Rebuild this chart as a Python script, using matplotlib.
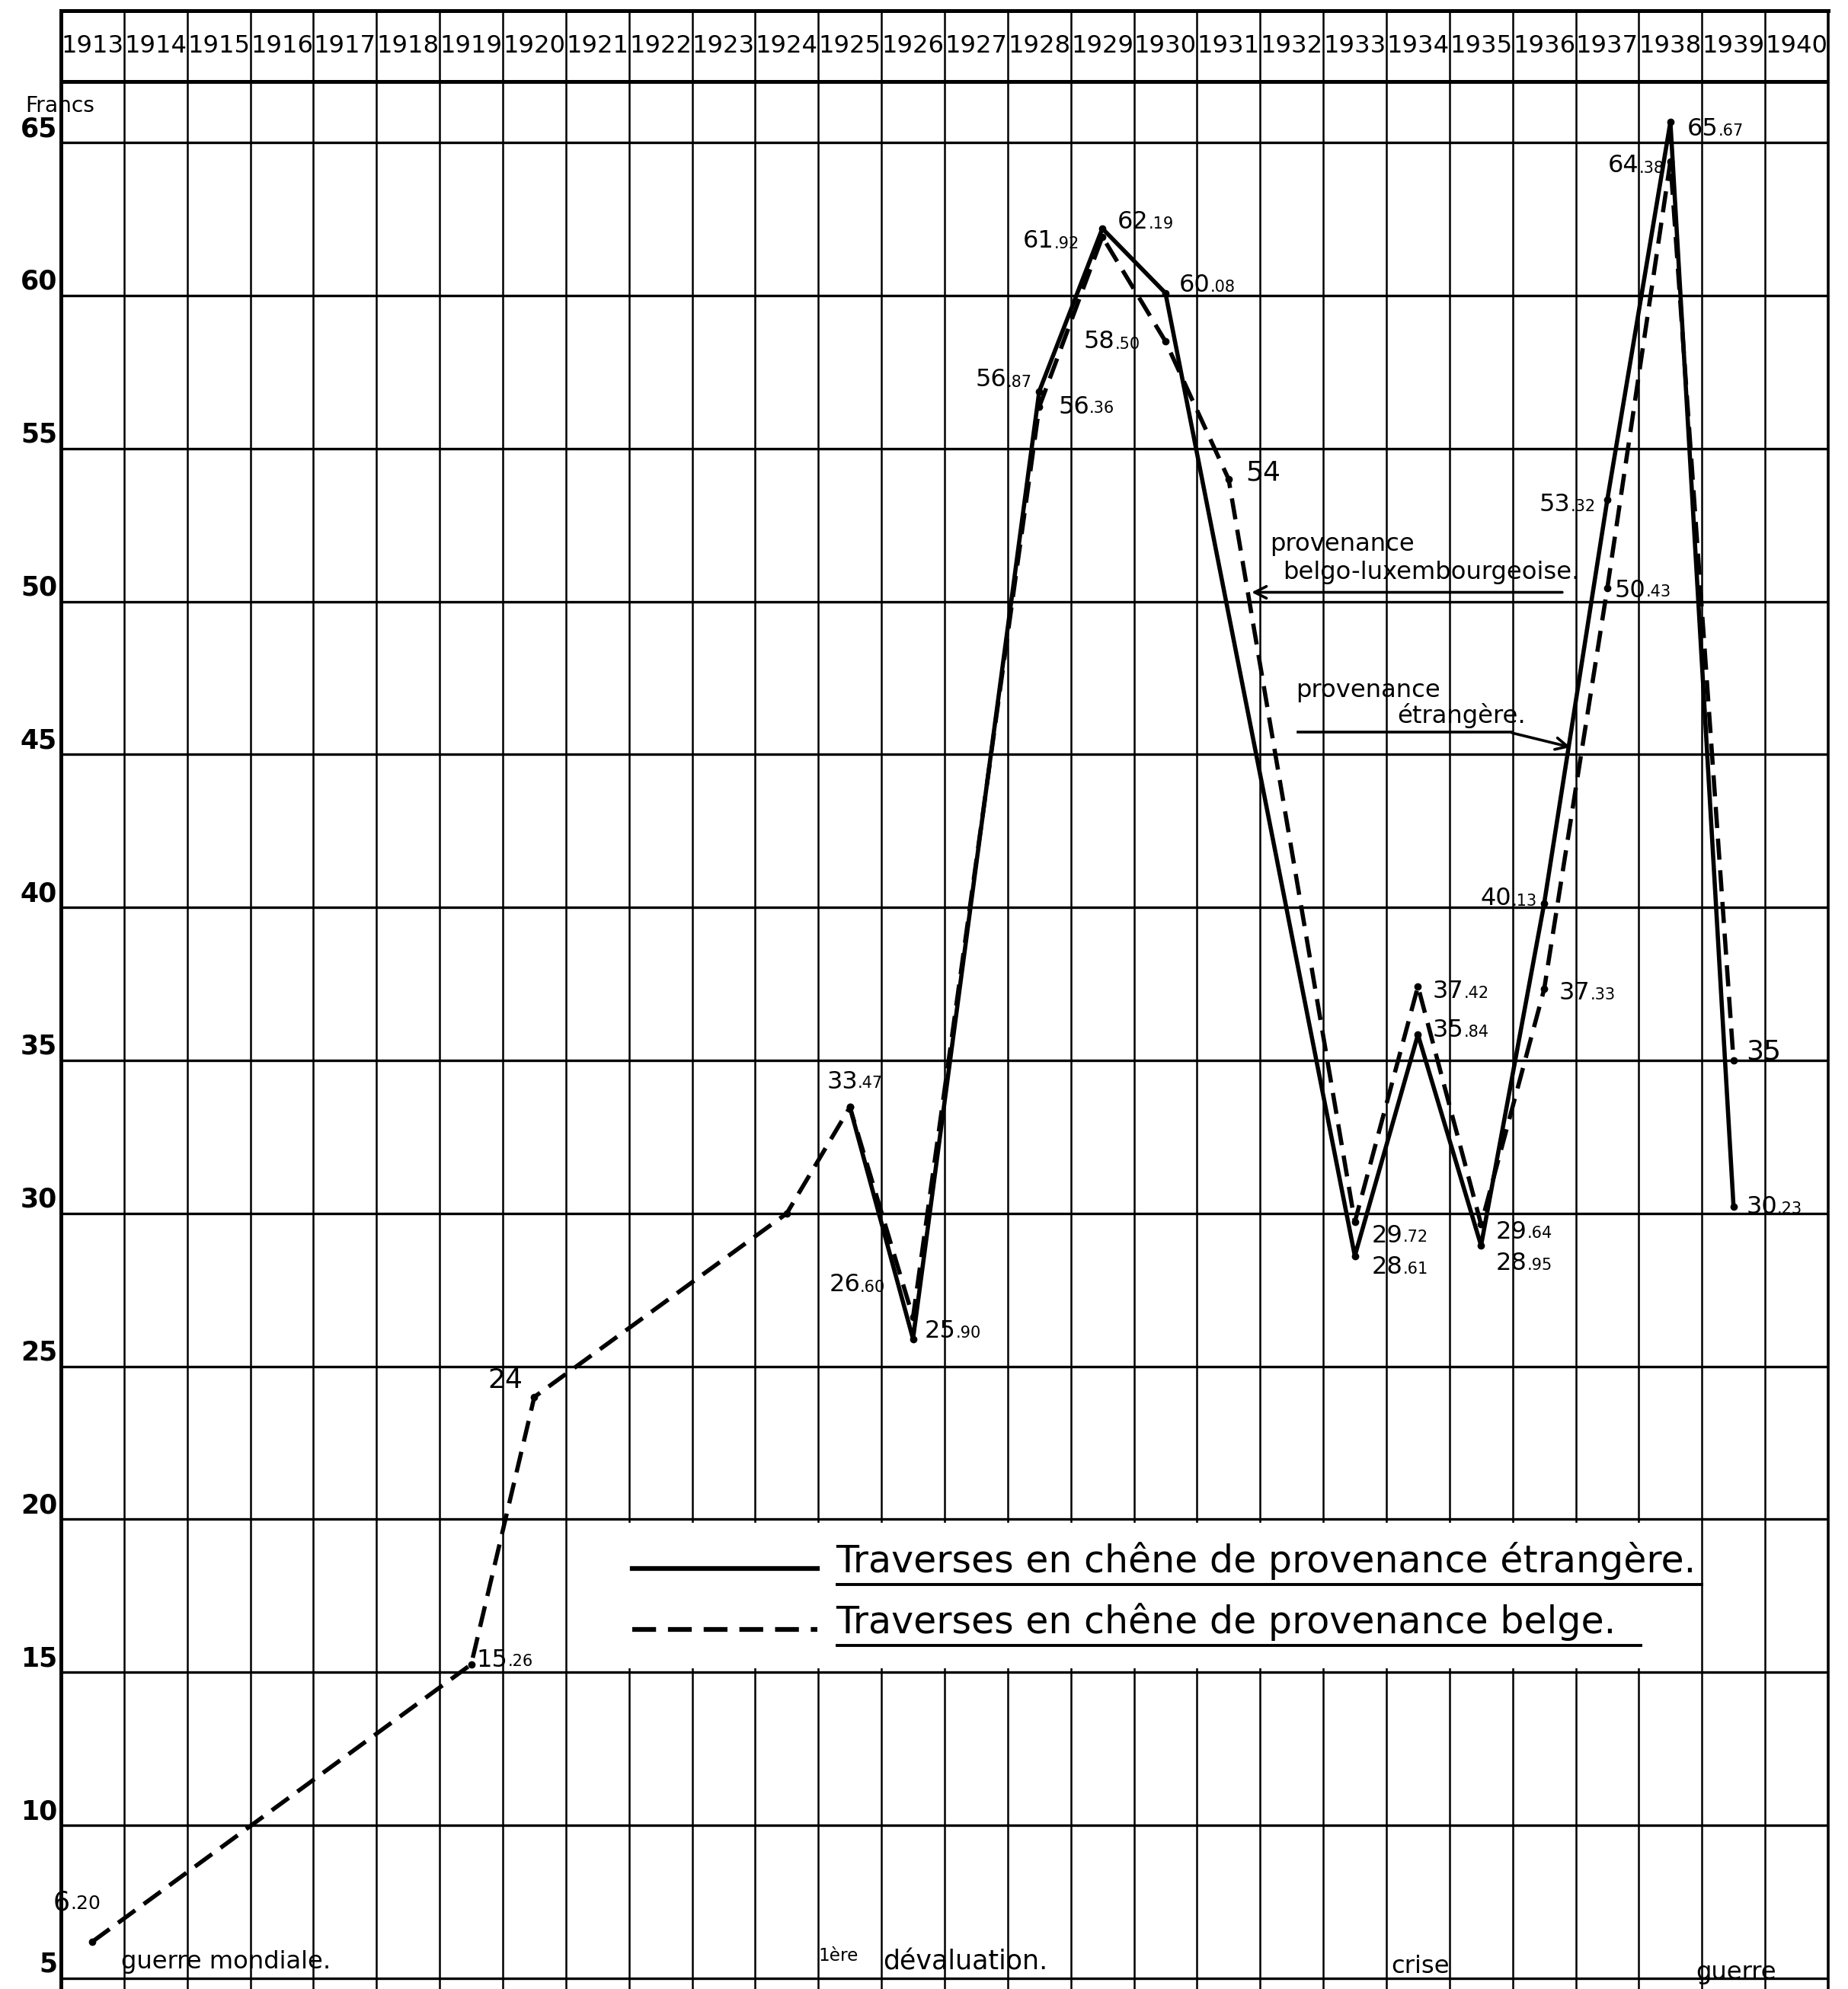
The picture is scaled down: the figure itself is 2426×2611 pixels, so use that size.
import matplotlib
matplotlib.use('Agg')
import matplotlib.pyplot as plt
from matplotlib import font_manager
from matplotlib.patches import Rectangle

years = list(range(1913, 1941))
y_ticks = [5, 10, 15, 20, 25, 30, 35, 40, 45, 50, 55, 60, 65]

# traverses en chene de provenance etrangere (trait plein)
etr_years = [1925, 1926, 1928, 1929, 1930, 1933, 1934, 1935, 1936, 1937, 1938, 1939]
etr_vals = [33.47, 25.90, 56.87, 62.19, 60.08, 28.61, 35.84, 28.95, 40.13, 53.32, 65.67, 30.23]

# traverses en chene de provenance belge (tirets)
bel_years = [1913, 1919, 1920, 1924, 1925, 1926, 1928, 1929, 1930, 1931,
             1933, 1934, 1935, 1936, 1937, 1938, 1939]
bel_vals = [6.20, 15.26, 24.00, 30.0, 33.47, 26.60, 56.36, 61.92, 58.50, 54.00,
            29.72, 37.42, 29.64, 37.33, 50.43, 64.38, 35.00]
bel_no_label = [1924]

legend_labels = ['Traverses en chêne de provenance étrangère.',
                 'Traverses en chêne de provenance belge.']

# label placement: (ha, dx, dy) in points
etr_pos = {1925: None, 1926: ('left', 11, 7), 1928: ('right', -7, 11), 1929: ('left', 14, 6),
           1930: ('left', 13, 7), 1933: ('left', 16, -11), 1934: ('left', 14, 4),
           1935: ('left', 14, -17), 1936: ('right', -7, 5), 1937: ('right', -11, -4),
           1938: ('left', 16, -7), 1939: ('left', 12, -1)}
bel_pos = {1913: ('left', -37, 37), 1919: ('left', 5, 4), 1920: ('right', -11, 16),
           1925: ('left', -22, 24), 1926: ('right', -26, 31), 1928: ('left', 18, 0),
           1929: ('right', -22, -4), 1930: ('right', -24, 0), 1931: ('left', 16, 6),
           1933: ('left', 16, -13), 1934: ('left', 14, -5), 1935: ('left', 14, -7),
           1936: ('left', 14, -4), 1937: ('left', 7, -2), 1938: ('right', -6, -4),
           1939: ('left', 12, 8)}

names = {f.name for f in font_manager.fontManager.ttflist}
if 'Liberation Sans Narrow' in names:
    narrow, nscale = 'Liberation Sans Narrow', 1.0
else:
    narrow, nscale = 'DejaVu Sans', 0.75

fig = plt.figure(figsize=(24.26, 26.11), dpi=100)
ax = fig.add_axes([80 / 2426, 0, 2320 / 2426, 2597 / 2611])
ax.set_xlim(1912.5, 1940.5)
ax.set_ylim(4.65, 69.31)
ax.set_xticks([])
ax.set_yticks([])
ax.spines['bottom'].set_visible(False)
ax.spines['top'].set_linewidth(3.6)
ax.spines['left'].set_linewidth(3.6)
ax.spines['right'].set_linewidth(2.6)

# grid
for y in years[:-1]:
    ax.axvline(y + 0.5, color='k', lw=1.8, zorder=1)
for v in y_ticks:
    ax.axhline(v, color='k', lw=2.4, zorder=2)
    ax.text(1912.44, v + 0.2, str(v), ha='right', va='baseline', fontsize=25,
            fontweight='bold', clip_on=False)
ax.axhline(67, color='k', lw=3.6, zorder=2)
ax.text(1911.93, 66.2, 'Francs', ha='left', va='center', fontsize=27 * nscale,
        family=narrow, zorder=5)

for y in years:
    ax.text(y, 68.15, str(y), ha='center', va='center', fontsize=31 * nscale, family=narrow)

# blank legend area
ax.add_patch(Rectangle((1921.42, 15.12), 1938.44 - 1921.42, 4.76, fc='white', ec='none', zorder=1.5))

ax.plot(etr_years, etr_vals, color='k', lw=4, zorder=4)
ax.plot(bel_years, bel_vals, color='k', lw=4, dashes=(5, 2.5), zorder=4)
ax.plot(etr_years, etr_vals, 'o', color='k', ms=6, zorder=5)
ax.plot(bel_years, bel_vals, 'o', color='k', ms=6, zorder=5)


def value_label(x, v, pos, big=23, small=15):
    if pos is None:
        return
    ha, dx, dy = pos
    txt = f'{v:.2f}' if v != int(v) else str(int(v))
    if '.' in txt:
        whole, dec = txt.split('.')
        dec = '.' + dec
    else:
        whole, dec = txt, ''
        big += 3
    if ha == 'left' or not dec:
        t = ax.annotate(whole, (x, v), xytext=(dx, dy), textcoords='offset points',
                        ha=ha, va='center', fontsize=big, zorder=6)
        if dec:
            ax.annotate(dec, xy=(1, 0), xycoords=t, xytext=(0, big * 0.23),
                        textcoords='offset points', ha='left', va='baseline',
                        fontsize=small, zorder=6)
    else:
        t = ax.annotate(dec, (x, v), xytext=(dx, dy - big * 0.3), textcoords='offset points',
                        ha='right', va='baseline', fontsize=small, zorder=6)
        ax.annotate(whole, xy=(0, 0), xycoords=t, xytext=(0, small * 0.23),
                    textcoords='offset points', ha='right', va='baseline',
                    fontsize=big, zorder=6)


for x, v in zip(etr_years, etr_vals):
    value_label(x, v, etr_pos[x])
for x, v in zip(bel_years, bel_vals):
    if x in bel_no_label:
        continue
    if x == 1913:
        value_label(x, v, bel_pos[x], big=25, small=18)
    else:
        value_label(x, v, bel_pos[x])

# annotations with arrows
ann = dict(fontsize=31 * nscale, family=narrow, ha='left', va='center', zorder=6)
ax.text(1931.65, 51.86, 'provenance', **ann)
ax.text(1931.86, 50.95, 'belgo-luxembourgeoise.', **ann)
ax.annotate('', xy=(1931.33, 50.3), xytext=(1936.32, 50.3),
            arrowprops=dict(arrowstyle='->', lw=2.6, color='k', mutation_scale=28), zorder=6)
ax.text(1932.06, 47.09, 'provenance', **ann)
ax.text(1933.67, 46.26, 'étrangère.', **ann)
ax.plot([1932.1, 1935.48], [45.72, 45.72], color='k', lw=2.6, zorder=6)
ax.annotate('', xy=(1936.45, 45.22), xytext=(1935.46, 45.72),
            arrowprops=dict(arrowstyle='->', lw=2.6, color='k', mutation_scale=28), zorder=6)

# legend
lfs = 47 * nscale
ax.plot([1921.55, 1924.48], [18.4, 18.4], color='k', lw=4.5, zorder=6)
ax.plot([1921.55, 1924.48], [16.4, 16.4], color='k', lw=4.5, dashes=(5, 2.5), zorder=6)
ax.text(1924.77, 18.65, legend_labels[0], ha='left', va='center', fontsize=lfs, family=narrow, zorder=6)
ax.text(1924.77, 16.65, legend_labels[1], ha='left', va='center', fontsize=lfs, family=narrow, zorder=6)
ax.plot([1924.8, 1938.5], [17.86, 17.86], color='k', lw=2.8, zorder=6)
ax.plot([1924.8, 1937.53], [15.87, 15.87], color='k', lw=2.8, zorder=6)

# events along the bottom
efs = 31 * nscale
ax.text(1913.45, 5.15, 'guerre mondiale.', ha='left', va='bottom', fontsize=efs, family=narrow, zorder=6)
ax.text(1924.5, 5.45, '1ère', ha='left', va='bottom', fontsize=efs * 0.72, family=narrow, zorder=6)
ax.text(1925.52, 5.1, 'dévaluation.', ha='left', va='bottom', fontsize=efs * 1.08, family=narrow, zorder=6)
ax.text(1933.57, 5.0, 'crise', ha='left', va='bottom', fontsize=efs, family=narrow, zorder=6)
ax.text(1938.4, 4.8, 'guerre', ha='left', va='bottom', fontsize=efs, family=narrow, zorder=6)

fig.savefig('out.png', dpi=100, facecolor='white')
